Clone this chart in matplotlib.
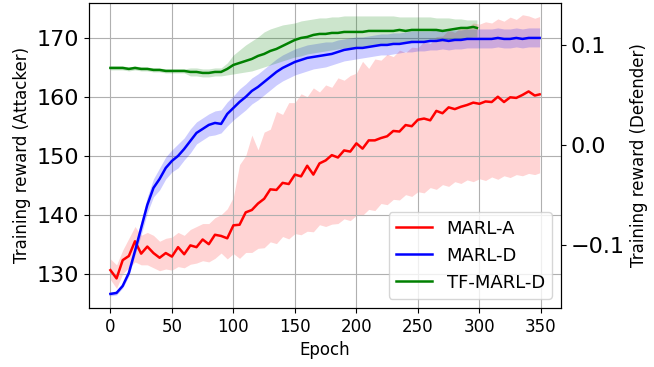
import matplotlib
matplotlib.use('Agg')
import matplotlib.pyplot as plt
import numpy as np

# epochs (sampled every 5, plus the last one)
epochs = np.append(np.arange(0, 350, 5), 349)
epochs_tf = np.append(np.arange(0, 300, 5), 298)

# MARL-A (attacker reward, left axis)
marl_a = [130.6, 129.2, 132.3, 133.0, 135.5, 133.4, 134.6, 133.5, 132.7, 133.5,
          132.9, 134.5, 133.3, 134.8, 134.5, 135.8, 135.0, 136.6, 136.4, 136.0,
          138.2, 138.3, 140.4, 140.8, 141.9, 142.7, 144.3, 144.2, 145.4, 145.2,
          146.8, 146.5, 148.3, 146.8, 148.7, 149.2, 150.1, 149.7, 150.9, 150.7,
          152.1, 151.2, 152.6, 152.6, 153.0, 153.3, 154.2, 154.1, 155.2, 155.0,
          156.1, 156.3, 156.0, 157.6, 157.2, 158.2, 157.9, 158.3, 158.6, 159.0,
          158.8, 159.2, 159.1, 160.0, 159.1, 159.9, 159.8, 160.3, 160.9, 160.2, 160.4]
marl_a_lo = [129.0, 127.5, 130.0, 131.0, 132.0, 131.5, 131.5, 131.0, 130.5, 130.8,
             130.6, 131.2, 131.0, 131.6, 131.8, 132.2, 132.0, 132.6, 133.5, 132.5,
             133.4, 132.6, 133.6, 133.6, 134.3, 134.4, 135.4, 135.1, 136.3, 135.9,
             136.8, 136.6, 137.2, 137.1, 138.3, 138.0, 138.4, 138.5, 139.3, 139.0,
             139.9, 139.9, 140.9, 140.7, 141.9, 141.7, 142.6, 142.5, 143.4, 143.1,
             143.9, 143.7, 144.6, 144.3, 145.1, 144.8, 145.6, 145.3, 145.9, 145.6,
             146.1, 145.8, 146.4, 146.0, 146.6, 146.3, 146.8, 146.6, 147.0, 146.8, 147.1]
marl_a_hi = [132.5, 131.5, 134.0, 136.0, 138.0, 136.5, 137.0, 136.5, 135.5, 136.0,
             136.2, 137.0, 136.5, 137.5, 138.0, 138.5, 138.5, 139.5, 140.0, 141.0,
             143.0, 148.5, 150.0, 153.5, 151.0, 154.0, 154.5, 157.5, 157.0, 159.0,
             159.0, 160.5, 160.0, 161.5, 160.8, 162.0, 161.6, 163.2, 162.8, 163.6,
             164.0, 166.0, 164.8, 166.4, 166.2, 167.2, 166.8, 167.9, 167.5, 168.4,
             168.3, 169.4, 169.0, 170.2, 170.3, 171.3, 170.9, 171.8, 171.7, 172.5,
             172.3, 172.7, 172.5, 173.2, 172.8, 173.5, 173.1, 173.9, 173.7, 173.3, 173.6]

# MARL-D (defender reward, right axis)
marl_d = [-0.149, -0.148, -0.141, -0.128, -0.106, -0.083, -0.060, -0.043, -0.034, -0.023,
          -0.016, -0.011, -0.004, 0.004, 0.012, 0.016, 0.020, 0.022, 0.021, 0.031,
          0.037, 0.043, 0.048, 0.054, 0.058, 0.063, 0.068, 0.073, 0.077, 0.080,
          0.083, 0.085, 0.087, 0.088, 0.089, 0.090, 0.091, 0.093, 0.095, 0.096,
          0.097, 0.097, 0.098, 0.099, 0.100, 0.100, 0.101, 0.101, 0.102, 0.103,
          0.103, 0.103, 0.104, 0.104, 0.105, 0.104, 0.105, 0.105, 0.106, 0.106,
          0.106, 0.106, 0.106, 0.107, 0.106, 0.106, 0.107, 0.106, 0.107, 0.107, 0.107]
marl_d_lo = [-0.151, -0.150, -0.143, -0.131, -0.110, -0.090, -0.068, -0.052, -0.045, -0.034,
             -0.027, -0.023, -0.015, -0.008, 0.001, 0.005, 0.009, 0.010, 0.012, 0.019,
             0.025, 0.030, 0.035, 0.041, 0.045, 0.050, 0.055, 0.060, 0.064, 0.067,
             0.070, 0.072, 0.074, 0.076, 0.077, 0.078, 0.080, 0.082, 0.084, 0.085,
             0.086, 0.087, 0.088, 0.089, 0.090, 0.090, 0.091, 0.092, 0.093, 0.093,
             0.094, 0.094, 0.095, 0.095, 0.096, 0.095, 0.096, 0.096, 0.097, 0.097,
             0.097, 0.097, 0.097, 0.098, 0.097, 0.097, 0.098, 0.097, 0.098, 0.098, 0.098]
marl_d_hi = [-0.147, -0.146, -0.139, -0.125, -0.102, -0.076, -0.052, -0.034, -0.023, -0.012,
             -0.005, 0.001, 0.007, 0.016, 0.023, 0.027, 0.031, 0.034, 0.035, 0.043,
             0.049, 0.056, 0.061, 0.067, 0.071, 0.076, 0.081, 0.086, 0.090, 0.093,
             0.096, 0.098, 0.100, 0.101, 0.102, 0.103, 0.103, 0.105, 0.106, 0.107,
             0.108, 0.108, 0.109, 0.110, 0.111, 0.111, 0.112, 0.112, 0.113, 0.114,
             0.114, 0.114, 0.114, 0.115, 0.115, 0.114, 0.115, 0.115, 0.116, 0.116,
             0.116, 0.116, 0.116, 0.117, 0.116, 0.116, 0.117, 0.116, 0.117, 0.117, 0.117]

# TF-MARL-D (defender reward, right axis, 300 epochs)
tf_marl_d = [0.077, 0.077, 0.077, 0.076, 0.077, 0.076, 0.076, 0.075, 0.075, 0.074,
             0.074, 0.074, 0.074, 0.073, 0.073, 0.072, 0.072, 0.073, 0.073, 0.076,
             0.080, 0.082, 0.084, 0.086, 0.089, 0.091, 0.094, 0.096, 0.099, 0.102,
             0.105, 0.107, 0.108, 0.110, 0.111, 0.111, 0.112, 0.112, 0.113, 0.113,
             0.113, 0.113, 0.114, 0.114, 0.114, 0.114, 0.114, 0.115, 0.114, 0.115,
             0.115, 0.115, 0.115, 0.115, 0.114, 0.115, 0.116, 0.117, 0.117, 0.118, 0.117]
tf_marl_d_lo = [0.075, 0.075, 0.075, 0.074, 0.075, 0.074, 0.074, 0.073, 0.073, 0.072,
                0.072, 0.072, 0.072, 0.069, 0.069, 0.068, 0.068, 0.069, 0.069, 0.070,
                0.071, 0.072, 0.073, 0.074, 0.076, 0.078, 0.080, 0.082, 0.084, 0.086,
                0.088, 0.089, 0.091, 0.092, 0.093, 0.094, 0.095, 0.096, 0.097, 0.097,
                0.098, 0.098, 0.099, 0.099, 0.100, 0.100, 0.101, 0.101, 0.102, 0.102,
                0.103, 0.103, 0.104, 0.104, 0.104, 0.105, 0.106, 0.106, 0.107, 0.108, 0.108]
tf_marl_d_hi = [0.079, 0.079, 0.079, 0.078, 0.079, 0.078, 0.078, 0.077, 0.077, 0.076,
                0.076, 0.076, 0.076, 0.077, 0.077, 0.076, 0.076, 0.077, 0.077, 0.082,
                0.090, 0.095, 0.100, 0.104, 0.108, 0.113, 0.116, 0.118, 0.120, 0.121,
                0.122, 0.124, 0.125, 0.126, 0.127, 0.127, 0.128, 0.128, 0.129, 0.129,
                0.129, 0.129, 0.129, 0.129, 0.129, 0.129, 0.129, 0.128, 0.128, 0.128,
                0.128, 0.128, 0.128, 0.127, 0.127, 0.127, 0.126, 0.126, 0.125, 0.125, 0.125]

fig, ax = plt.subplots(figsize=(6.54, 3.67), dpi=100)
fig.subplots_adjust(left=0.136, right=0.858, top=0.992, bottom=0.161)

ax.fill_between(epochs, marl_a_lo, marl_a_hi, color='red', alpha=0.17, linewidth=0)
l1, = ax.plot(epochs, marl_a, color='red', linewidth=1.8, label='MARL-A')
ax.set_ylim(124.2, 175.9)
ax.set_xlim(-17.45, 366.45)
ax.set_yticks([130, 140, 150, 160, 170])
ax.set_xticks([0, 50, 100, 150, 200, 250, 300, 350])
ax.tick_params(axis='y', labelsize=16)
ax.tick_params(axis='x', labelsize=12)
ax.set_xlabel('Epoch', fontsize=12)
ax.set_ylabel('Training reward (Attacker)', fontsize=12)
ax.grid(True)

ax2 = ax.twinx()
ax2.fill_between(epochs, marl_d_lo, marl_d_hi, color='blue', alpha=0.2, linewidth=0)
l2, = ax2.plot(epochs, marl_d, color='blue', linewidth=1.8, label='MARL-D')
ax2.fill_between(epochs_tf, tf_marl_d_lo, tf_marl_d_hi, color='green', alpha=0.2, linewidth=0)
l3, = ax2.plot(epochs_tf, tf_marl_d, color='green', linewidth=1.8, label='TF-MARL-D')
ax2.set_ylim(-0.163, 0.142)
ax2.set_yticks([-0.1, 0.0, 0.1])
ax2.tick_params(axis='y', labelsize=16)
ax2.set_ylabel('Training reward (Defender)', fontsize=12)

ax2.legend(handles=[l1, l2, l3], loc='lower right', fontsize=13)

fig.savefig('out.png', dpi=100)
